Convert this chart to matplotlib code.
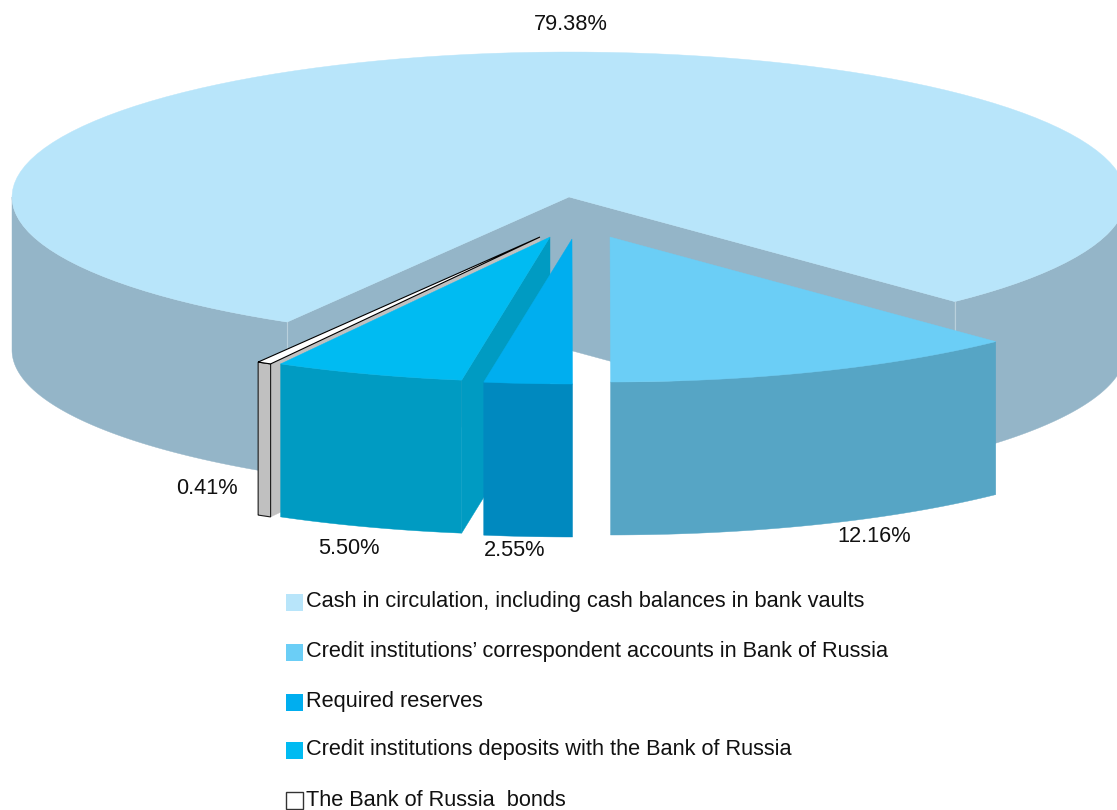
import numpy as np
import matplotlib
matplotlib.use("Agg")
import matplotlib.pyplot as plt
from matplotlib.patches import Rectangle

plt.rcParams["font.family"] = ["Liberation Sans", "DejaVu Sans"]

# slice order runs clockwise, starting at START_ANGLE
labels = [
    "Cash in circulation, including cash balances in bank vaults",
    "Credit institutions\u2019 correspondent accounts in Bank of Russia",
    "Required reserves",
    "Credit institutions deposits with the Bank of Russia",
    "The Bank of Russia  bonds",
]
shares = [79.38, 12.16, 2.55, 5.50, 0.41]

top_colors = ["#B8E5FA", "#6BCEF6", "#00AEEF", "#00BBF2", "#FFFFFF"]
side_colors = ["#94B5C8", "#56A5C5", "#0089BF", "#009BC2", "#C0C0C0"]

# picture is laid out in pixels, y going down
CX, CY = 569, 197
RX, RY = 557, 145
DEPTH = 153
START_ANGLE = 210.4
offsets = [(0, 0), (41, 40), (3, 42), (-19, 40), (-29, 40)]

label_xy = [(571, 25), (874, 536), (515, 550), (349, 548), (207, 488)]
legend_y = [602, 652, 702, 750, 800]


def rim(t0, t1, dx=0, dy=0, n=120):
    t = np.radians(np.linspace(t0, t1, n))
    return CX + dx + RX * np.sin(t), CY + dy - RY * np.cos(t)


def fill_top(ax, t0, t1, dx, dy, color, zorder, edge=None):
    x, y = rim(t0, t1, dx, dy)
    x = np.r_[CX + dx, x]
    y = np.r_[CY + dy, y]
    ax.fill(x, y, facecolor=color, edgecolor=edge or color,
            lw=0.8 if edge else 0.3, zorder=zorder)


def fill_side(ax, t0, t1, dx, dy, color, zorder, edge=None):
    # only the front half of the rim can be seen
    for a, b in [(max(t0, 90), min(t1, 270)), (max(t0, 450), min(t1, 630))]:
        if a >= b:
            continue
        x, y = rim(a, b, dx, dy)
        ax.fill(np.r_[x, x[::-1]], np.r_[y, y[::-1] + DEPTH],
                facecolor=color, edgecolor=edge or color,
                lw=0.8 if edge else 0.3, zorder=zorder)


def fill_cut(ax, t, dx, dy, color, zorder):
    x, y = rim(t, t, dx, dy, n=1)
    px = [CX + dx, x[0], x[0], CX + dx]
    py = [CY + dy, y[0], y[0] + DEPTH, CY + dy + DEPTH]
    ax.fill(px, py, facecolor=color, edgecolor=color, lw=0.3, zorder=zorder)


def main():
    fig = plt.figure(figsize=(11.17, 8.10), dpi=100)
    ax = fig.add_axes([0, 0, 1, 1])
    ax.set_xlim(0, 1117)
    ax.set_ylim(810, 0)
    ax.axis("off")

    spans = np.array(shares) / sum(shares) * 360
    starts = START_ANGLE + np.r_[0, np.cumsum(spans)[:-1]]
    ends = starts + spans

    # the big slice first, its two cut faces sit behind everything else
    fill_cut(ax, starts[0], 0, 0, side_colors[0], 1)
    fill_cut(ax, ends[0], 0, 0, side_colors[0], 1)
    fill_side(ax, starts[0], ends[0], 0, 0, side_colors[0], 2)
    fill_top(ax, starts[0], ends[0], 0, 0, top_colors[0], 3)
    for t in (starts[0], ends[0]):
        x, y = rim(t, t, n=1)
        ax.plot([x[0], x[0]], [y[0], y[0] + DEPTH], color="#B9D0DC", lw=0.8, zorder=2.5)

    # bonds sliver has black outlines
    dx, dy = offsets[4]
    fill_cut(ax, starts[4], dx, dy, side_colors[4], 4)
    fill_side(ax, starts[4], ends[4], dx, dy, side_colors[4], 5, edge="#1A1A1A")
    fill_top(ax, starts[4], ends[4], dx, dy, top_colors[4], 6, edge="#000000")

    # deposits, then reserves, then correspondent accounts
    # only the deposits slice shows a cut face from this viewpoint
    for i, z in [(3, 7), (2, 10), (1, 13)]:
        dx, dy = offsets[i]
        if i == 3:
            fill_cut(ax, starts[i], dx, dy, side_colors[i], z)
        fill_side(ax, starts[i], ends[i], dx, dy, side_colors[i], z + 1)
        fill_top(ax, starts[i], ends[i], dx, dy, top_colors[i], z + 2)

    for share, (x, y) in zip(shares, label_xy):
        ax.text(x, y, f"{share:.2f}%", ha="center", va="center",
                fontsize=15.7, color="#111111", zorder=20)

    for name, color, y in zip(labels, top_colors, legend_y):
        edge = "#333333" if color == "#FFFFFF" else color
        ax.add_patch(Rectangle((286, y - 8.5), 17, 17, facecolor=color, edgecolor=edge,
                               lw=1 if color == "#FFFFFF" else 0, zorder=20))
        ax.text(306, y, name, ha="left", va="center", fontsize=15.7,
                color="#111111", zorder=20)

    fig.savefig("out.png", dpi=100)
    plt.close(fig)


if __name__ == "__main__":
    main()
